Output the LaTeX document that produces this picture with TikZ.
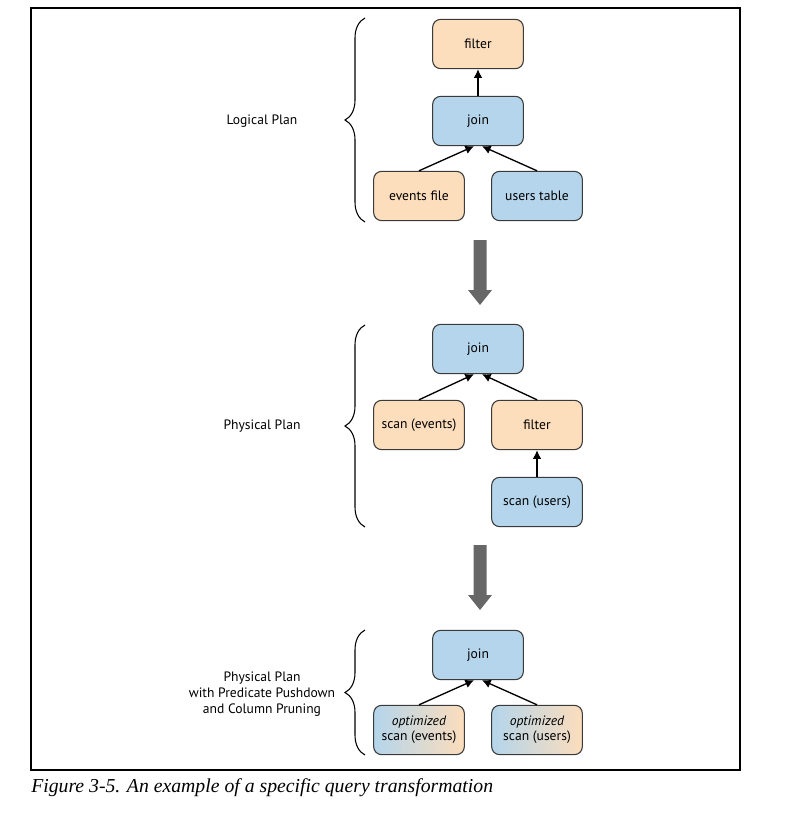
\documentclass[tikz,border=0pt]{standalone}
\usepackage{fontspec}
\setmainfont{PT Sans}
\newfontfamily\capfont{Liberation Serif}
\usetikzlibrary{decorations.pathreplacing,arrows.meta}
\definecolor{peach}{HTML}{FCDDBC}
\definecolor{skyb}{HTML}{B4D5EB}
\definecolor{edgec}{HTML}{3A3A3A}
\definecolor{bigarr}{HTML}{676767}
\tikzset{
  box/.style={draw=edgec, line width=0.8pt, rounded corners=6pt, minimum width=68pt, minimum height=37pt, inner sep=1pt, align=center, font=\fontsize{10.2}{12}\selectfont},
  orangebox/.style={box, fill=peach},
  bluebox/.style={box, fill=skyb},
  mixbox/.style={box, left color=skyb, right color=peach},
  link/.style={line width=1pt, -{Latex[length=6.5pt,width=6.5pt]}},
  planbrace/.style={decorate, decoration={brace, amplitude=15pt}, line width=0.8pt},
  planlabel/.style={align=center, font=\fontsize{10.2}{12}\selectfont},
  bigarrow/.style={fill=bigarr, draw=none}
}
\newcommand{\bigdownarrow}[2]{%
  \fill[bigarrow] (#1-6.5,#2) -- (#1+6.5,#2) -- (#1+6.5,#2+50) -- (#1+12,#2+50) -- (#1,#2+65) -- (#1-12,#2+50) -- (#1-6.5,#2+50) -- cycle;}
\begin{document}
\begin{tikzpicture}[x=0.75pt,y=-0.75pt]
\useasboundingbox (0,0) rectangle (793,824);
\draw[line width=0.8pt] (31,8) rectangle (740,770);
% logical plan
\node[orangebox] (f1) at (478,44) {filter};
\node[bluebox] (j1) at (478,121) {join};
\node[orangebox] (ev1) at (419,196) {events file};
\node[bluebox] (us1) at (537,196) {users table};
\draw[link] (j1.north) -- (f1.south);
\draw[link] (ev1.north) -- ([xshift=-3pt]j1.south);
\draw[link] (us1.north) -- ([xshift=3pt]j1.south);
\coordinate (b1t) at (365,18);
\coordinate (b1b) at (365,222);
\draw[planbrace] (b1b) -- (b1t);
\node[planlabel] (l1) at (262,121) {Logical Plan};
\bigdownarrow{480}{240}
% physical plan
\node[bluebox] (j2) at (478,349) {join};
\node[orangebox] (ev2) at (419,425) {scan (events)};
\node[orangebox] (f2) at (537,425) {filter};
\node[bluebox] (us2) at (537,502) {scan (users)};
\draw[link] (ev2.north) -- ([xshift=-3pt]j2.south);
\draw[link] (f2.north) -- ([xshift=3pt]j2.south);
\draw[link] (us2.north) -- (f2.south);
\coordinate (b2t) at (365,325);
\coordinate (b2b) at (365,527);
\draw[planbrace] (b2b) -- (b2t);
\node[planlabel] (l2) at (262,426) {Physical Plan};
\bigdownarrow{480}{545}
% optimized
\node[bluebox] (j3) at (478,655) {join};
\node[mixbox] (ev3) at (419,730) {\textit{optimized}\\[-1pt]scan (events)};
\node[mixbox] (us3) at (537,730) {\textit{optimized}\\[-1pt]scan (users)};
\draw[link] (ev3.north) -- ([xshift=-3pt]j3.south);
\draw[link] (us3.north) -- ([xshift=3pt]j3.south);
\coordinate (b3t) at (365,630);
\coordinate (b3b) at (365,755);
\draw[planbrace] (b3b) -- (b3t);
\node[planlabel] (l3) at (262,694) {Physical Plan\\with Predicate Pushdown\\and Column Pruning};
% caption
\node[anchor=west, inner sep=0pt, font=\capfont\itshape\fontsize{14.8}{16}\selectfont] (cap) at (31,788) {Figure 3-5. An example of a specific query transformation};
\end{tikzpicture}
\end{document}
